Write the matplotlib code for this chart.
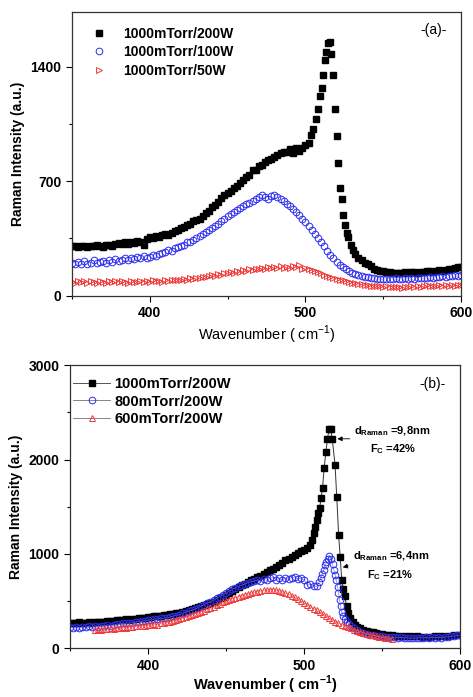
import matplotlib
matplotlib.use("Agg")
import matplotlib.pyplot as plt
from matplotlib.ticker import MultipleLocator

plt.rcParams['font.family'] = ['Liberation Sans', 'DejaVu Sans']
plt.rcParams['mathtext.fontset'] = 'custom'
plt.rcParams['mathtext.rm'] = 'Liberation Sans'
plt.rcParams['mathtext.bf'] = 'Liberation Sans:bold'

# ---------------- Panel (a) data ----------------
a_black_x = [350, 352, 354, 356, 358, 360, 362, 364, 366, 368, 370, 372, 374, 376, 378, 380, 382, 384, 386, 388,
             390, 392, 394, 396, 398, 400, 402, 404, 406, 408, 410, 412, 414, 416, 418, 420, 422, 424, 426, 428,
             430, 432, 434, 436, 438, 440, 442, 444, 446, 448, 450, 452, 454, 456, 458, 460, 462, 464, 466, 468,
             470, 472, 474, 476, 478, 480, 482, 484, 486, 488, 490, 492, 494, 496, 498, 500, 502, 503.5, 505, 506.5,
             508, 509.2, 510.3, 511.3, 512.3, 513.3, 514.3, 515.5, 516.6, 517.7, 518.9, 520, 521.1, 522.2, 523.3, 524.4,
             525.4, 526.5, 527.6, 529, 530.4, 532, 534, 536, 538, 540, 542, 544, 546, 548, 550, 552, 554, 556, 558,
             560, 562, 564, 566, 568, 570, 572, 574, 576, 578, 580, 582, 584, 586, 588, 590, 592, 594, 596, 598, 600]
a_black_y = [305, 300, 295, 305, 300, 298, 305, 300, 310, 302, 298, 308, 312, 305, 318, 322, 315, 325, 318, 330,
             322, 335, 330, 310, 345, 355, 350, 362, 358, 370, 375, 372, 385, 392, 398, 410, 418, 430, 438, 455,
             462, 470, 488, 505, 520, 540, 555, 575, 595, 612, 628, 640, 660, 672, 688, 705, 722, 740, 770, 765,
             790, 800, 815, 830, 838, 850, 862, 870, 875, 880, 895, 870, 905, 885, 900, 920, 935, 980, 1020, 1080,
             1140, 1220, 1270, 1350, 1440, 1490, 1545, 1550, 1480, 1350, 1140, 976, 808, 660, 590, 490,
             430, 380, 358, 310, 280, 255, 228, 215, 200, 190, 178, 165, 158, 150, 148, 145, 142, 140, 138,
             140, 137, 142, 139, 141, 144, 140, 146, 143, 148, 150, 146, 152, 155, 150, 158, 162, 160, 170, 175, 172]

a_blue_x = list(range(350, 601, 2))
a_blue_y = [200, 190, 205, 195, 210, 192, 200, 215, 198, 205, 212, 200, 218, 205, 222, 210, 220, 228, 215, 230,
            222, 235, 228, 240, 232, 238, 245, 240, 255, 262, 268, 278, 272, 290, 295, 305, 312, 325, 330, 340,
            352, 362, 375, 388, 398, 415, 428, 440, 455, 470, 485, 498, 510, 525, 535, 550, 560, 568, 580, 592,
            605, 612, 600, 590, 608, 615, 600, 590, 580, 560, 545, 530, 510, 490, 470, 450, 425, 400, 375, 350,
            325, 300, 275, 250, 228, 205, 188, 172, 160, 148, 140, 132, 125, 120, 116, 112, 108, 106, 104, 102,
            103, 100, 104, 101, 106, 103, 100, 105, 102, 107, 104, 108, 105, 110, 107, 112, 110, 115, 112, 118,
            115, 120, 118, 124, 120, 125]

a_red_x = list(range(350, 601, 2))
a_red_y = [85, 78, 90, 80, 86, 76, 88, 82, 79, 90, 84, 78, 88, 82, 86, 80, 90, 84, 78, 88,
           85, 80, 90, 84, 88, 82, 92, 86, 90, 84, 94, 88, 96, 92, 98, 94, 102, 98, 106, 102,
           110, 106, 115, 112, 120, 125, 122, 132, 128, 140, 135, 145, 140, 150, 146, 155, 150, 160, 155, 165,
           160, 168, 162, 172, 166, 175, 168, 178, 170, 176, 168, 180, 172, 185, 165, 170, 160, 155, 148, 142,
           135, 128, 120, 115, 108, 102, 96, 92, 86, 82, 78, 74, 70, 68, 64, 62, 60, 58, 56, 58,
           54, 56, 52, 55, 50, 54, 48, 55, 52, 58, 54, 60, 55, 58, 62, 56, 60, 58, 64, 58,
           62, 60, 66, 58, 64, 62]

a_labels = ['1000mTorr/200W', '1000mTorr/100W', '1000mTorr/50W']

# ---------------- Panel (b) data ----------------
b_black_x = [350, 352, 354, 356, 358, 360, 362, 364, 366, 368, 370, 372, 374, 376, 378, 380, 382, 384, 386, 388,
             390, 392, 394, 396, 398, 400, 402, 404, 406, 408, 410, 412, 414, 416, 418, 420, 422, 424, 426, 428,
             430, 432, 434, 436, 438, 440, 442, 444, 446, 448, 450, 452, 454, 456, 458, 460, 462, 464, 466, 468,
             470, 472, 474, 476, 478, 480, 482, 484, 486, 488, 490, 492, 494, 496, 498, 500, 502, 503.5, 504.8, 506,
             507.2, 508.2, 509.2, 510, 510.8, 511.8, 512.8, 513.9, 514.9, 516, 517, 518, 519.8, 520.9, 522.1, 523.1,
             524.1, 525.1, 526, 527.2, 528.4, 529.5, 531, 532.5, 534, 536, 538, 540, 542, 544, 546, 548, 550,
             552, 554, 556, 558, 560, 564, 568, 572, 576, 580, 584, 588, 592, 596, 600]
b_black_y = [265, 270, 262, 275, 270, 268, 278, 272, 280, 276, 282, 278, 288, 285, 292, 295, 300, 298, 305, 302,
             310, 312, 318, 320, 325, 332, 335, 338, 342, 345, 350, 352, 358, 362, 368, 375, 385, 395, 405, 412,
             425, 435, 448, 458, 470, 482, 495, 510, 530, 548, 565, 585, 605, 625, 645, 665, 680, 700, 718, 735,
             755, 770, 790, 805, 825, 845, 865, 880, 900, 930, 950, 970, 990, 1010, 1030, 1045, 1065, 1090, 1150, 1220,
             1290, 1360, 1430, 1490, 1590, 1700, 1910, 2075, 2220, 2320, 2320, 2220, 1945, 1600, 1200, 970,
             725, 625, 550, 445, 370, 320, 280, 250, 230, 210, 198, 185, 176, 168, 160, 152, 147,
             143, 140, 136, 133, 131, 128, 126, 125, 124, 124, 126, 128, 132, 136, 142]

b_blue_x = [350, 352, 354, 356, 358, 360, 362, 364, 366, 368, 370, 372, 374, 376, 378, 380, 382, 384, 386, 388,
            390, 392, 394, 396, 398, 400, 402, 404, 406, 408, 410, 412, 414, 416, 418, 420, 422, 424, 426, 428,
            430, 432, 434, 436, 438, 440, 442, 444, 446, 448, 450, 452, 454, 456, 458, 460, 462, 464, 466, 468,
            470, 472, 474, 476, 478, 480, 482, 484, 486, 488, 490, 492, 494, 496, 498, 500, 502, 504, 506, 508,
            509.5, 510.7, 511.6, 512.5, 513.4, 514.3, 515.2, 516.2, 517.2, 518.2, 519, 519.8, 520.6, 521.4, 522, 522.7,
            523.3, 524.1, 525, 526, 527.2, 528.5, 530, 532, 534, 536, 538, 540, 542, 544, 546, 548, 550,
            552, 554, 556, 558, 560, 562, 564, 566, 568, 570, 572, 574, 576, 578, 580, 582, 584, 586, 588,
            590, 592, 594, 596, 598, 600]
b_blue_y = [230, 215, 225, 210, 228, 220, 232, 222, 238, 230, 240, 235, 245, 240, 250, 255, 258, 262, 268, 265,
            272, 278, 282, 288, 292, 298, 302, 308, 312, 315, 318, 322, 330, 338, 345, 355, 368, 378, 390, 402,
            415, 430, 445, 462, 478, 492, 510, 528, 548, 565, 585, 605, 625, 640, 655, 668, 680, 695, 705, 712,
            722, 715, 732, 720, 740, 752, 725, 740, 720, 745, 730, 748, 755, 735, 740, 725, 670, 680, 660, 655,
            700, 740, 790, 830, 880, 910, 950, 980, 945, 890, 830, 780, 720, 650, 590, 515,
            450, 380, 340, 305, 280, 258, 232, 210, 188, 170, 160, 150, 142, 138, 132, 128, 125,
            122, 118, 115, 118, 110, 114, 108, 112, 105, 110, 106, 112, 108, 114, 108, 115, 110, 118, 112,
            120, 118, 125, 130, 135, 140]

b_red_x = list(range(366, 557, 2))
b_red_y = [190, 200, 195, 205, 200, 210, 205, 215, 212, 222, 218, 228, 225, 235, 232, 240, 238, 245, 242, 252,
           250, 262, 265, 275, 280, 292, 298, 310, 318, 330, 338, 350, 362, 375, 388, 398, 412, 425, 440, 455,
           468, 485, 498, 510, 525, 535, 548, 558, 568, 575, 585, 592, 600, 605, 612, 615, 618, 620, 615, 610,
           598, 585, 570, 555, 538, 520, 500, 482, 462, 440, 420, 400, 380, 360, 340, 320, 300, 282, 265, 250,
           236, 222, 210, 198, 186, 175, 165, 155, 145, 135, 128, 120, 115, 110, 104, 100]

b_labels = ['1000mTorr/200W', '800mTorr/200W', '600mTorr/200W']

BLUE = '#2b2bf0'
RED = '#f03a3a'

fig = plt.figure(figsize=(4.73, 6.97), dpi=100)
axA = fig.add_axes([0.152, 0.576, 0.823, 0.407])
axB = fig.add_axes([0.148, 0.070, 0.825, 0.406])

# ----- panel (a) -----
axA.plot(a_black_x, a_black_y, ls='none', marker='s', ms=4.5, color='black', label=a_labels[0])
axA.plot(a_blue_x, a_blue_y, ls='none', marker='o', ms=4.8, mfc='none', mec=BLUE, mew=0.7, label=a_labels[1])
axA.plot(a_red_x, a_red_y, ls='none', marker='>', ms=4.5, mfc='none', mec=RED, mew=0.7, label=a_labels[2])
axA.set_xlim(350, 600)
axA.set_ylim(0, 1735)
axA.xaxis.set_major_locator(MultipleLocator(100))
axA.xaxis.set_minor_locator(MultipleLocator(50))
axA.yaxis.set_major_locator(MultipleLocator(700))
axA.yaxis.set_minor_locator(MultipleLocator(350))
axA.set_xlabel('Wavenumber ( cm$^{-1}$)', fontsize=10.5, labelpad=3)
axA.set_ylabel('Raman Intensity (a.u.)', fontsize=10, fontweight='bold', labelpad=4)
axA.text(0.93, 0.935, '-(a)-', transform=axA.transAxes, ha='center', va='center', fontsize=10)
legA = axA.legend(loc='upper left', bbox_to_anchor=(0.02, 0.99), frameon=False, handlelength=1.0,
                  handletextpad=1.2, labelspacing=0.3, prop={'weight': 'bold', 'size': 10})

# ----- panel (b) -----
axB.plot(b_black_x, b_black_y, ls='-', lw=0.7, color='#333333', marker='s', ms=5, mfc='black', mec='black',
         label=b_labels[0])
axB.plot(b_blue_x, b_blue_y, ls='-', lw=0.5, color='#8888dd', marker='o', ms=4.8, mfc='none', mec=BLUE, mew=0.7,
         label=b_labels[1])
axB.plot(b_red_x, b_red_y, ls='-', lw=0.5, color='#dd8888', marker='^', ms=4.8, mfc='none', mec=RED, mew=0.7,
         label=b_labels[2])
axB.set_xlim(350, 600)
axB.set_ylim(0, 3000)
axB.xaxis.set_major_locator(MultipleLocator(100))
axB.xaxis.set_minor_locator(MultipleLocator(50))
axB.yaxis.set_major_locator(MultipleLocator(1000))
axB.yaxis.set_minor_locator(MultipleLocator(500))
axB.set_xlabel('Wavenumber ( cm$^{\\mathbf{-1}}$)', fontsize=10.5, fontweight='bold', labelpad=1)
axB.set_ylabel('Raman Intensity (a.u.)', fontsize=10, fontweight='bold', labelpad=4)
axB.text(0.93, 0.935, '-(b)-', transform=axB.transAxes, ha='center', va='center', fontsize=10)
legB = axB.legend(loc='upper left', bbox_to_anchor=(-0.025, 1.005), frameon=False, handlelength=2.5,
                  handletextpad=0.3, labelspacing=0.25, prop={'weight': 'bold', 'size': 10.5})
for line in legB.get_lines():
    line.set_color('#555555')

axB.annotate('', xy=(519.5, 2220), xytext=(531, 2220),
             arrowprops=dict(arrowstyle='-|>', color='black', lw=0.6, mutation_scale=7))
axB.text(532, 2305, r'$\mathbf{d_{Raman}}$ =9,8nm', fontsize=8, fontweight='bold', va='center')
axB.text(542, 2110, r'$\mathbf{F_{C}}$ =42%', fontsize=8, fontweight='bold', va='center')
axB.annotate('', xy=(523, 850), xytext=(530, 880),
             arrowprops=dict(arrowstyle='-|>', color='black', lw=0.6, mutation_scale=7))
axB.text(531, 975, r'$\mathbf{d_{Raman}}$ =6,4nm', fontsize=8, fontweight='bold', va='center')
axB.text(540, 770, r'$\mathbf{F_{C}}$ =21%', fontsize=8, fontweight='bold', va='center')

for ax in (axA, axB):
    ax.tick_params(axis='both', which='major', direction='out', length=4, width=0.8, labelsize=10)
    ax.tick_params(axis='both', which='minor', direction='out', length=2.5, width=0.8)
    for lab in ax.get_xticklabels() + ax.get_yticklabels():
        lab.set_fontweight('bold')
    for sp in ax.spines.values():
        sp.set_linewidth(0.9)
        sp.set_color('#333333')

fig.savefig('out.png', dpi=100)
